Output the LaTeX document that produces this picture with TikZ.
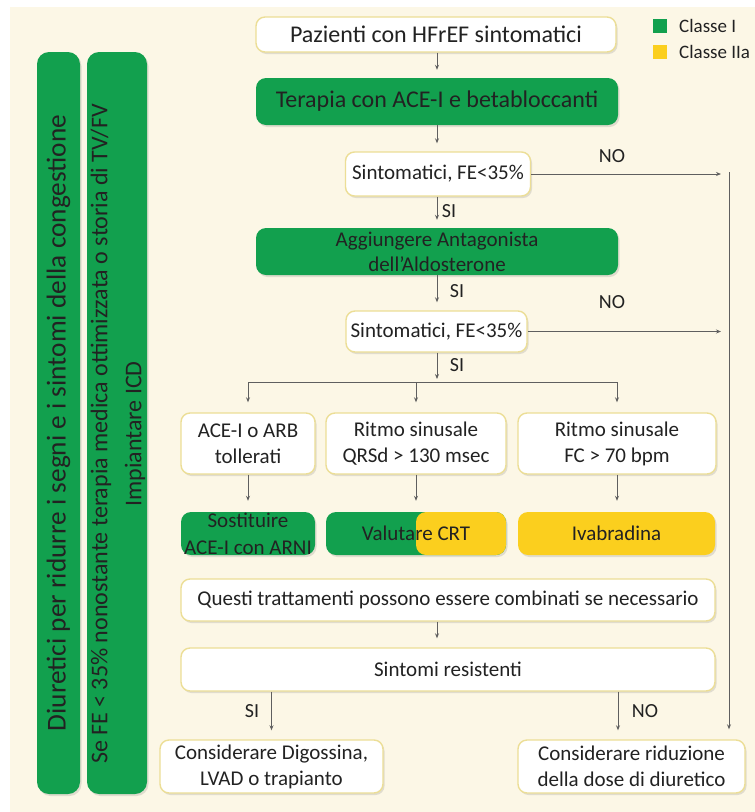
\documentclass[tikz,border=0pt]{standalone}
\usepackage{fontspec}
\setmainfont{Carlito}
\usetikzlibrary{arrows.meta,shadows}
\definecolor{bg}{RGB}{252,247,230}
\definecolor{gr}{RGB}{18,160,78}
\definecolor{ye}{RGB}{251,207,30}
\definecolor{bd}{RGB}{236,222,150}
\definecolor{ln}{RGB}{95,95,95}
\definecolor{tx}{RGB}{34,34,34}
\begin{document}
\begin{tikzpicture}[x=1pt,y=-1pt,
  shad/.style={drop shadow={shadow xshift=1.5pt,shadow yshift=-2pt,opacity=0.18,fill=black!60}},
  wbox/.style={draw=bd,line width=1.4pt,fill=white,rounded corners=9pt,align=center,text=tx,inner sep=0pt,shad},
  gbox/.style={fill=gr,rounded corners=10pt,align=center,text=tx,inner sep=0pt,shad},
  ybox/.style={fill=ye,rounded corners=10pt,align=center,text=tx,inner sep=0pt,shad},
  arr/.style={draw=ln,line width=0.9pt,-{Stealth[length=5pt,width=4pt]},shorten >=8pt},
  lnk/.style={draw=ln,line width=0.9pt},
  lab/.style={font=\fontsize{20}{22}\selectfont,text=tx,inner sep=0pt},
  big/.style={font=\fontsize{24}{28}\selectfont},
  mid/.style={font=\fontsize{21}{26}\selectfont}
]
\useasboundingbox (0,0) rectangle (755,812);
\fill[bg] (10,7) rectangle (755,812);

% left bars
\node[gbox,minimum width=43pt,minimum height=742pt,rounded corners=12pt] (bar1) at (58.5,423) {};
\node[rotate=90,font=\fontsize{27.3}{30}\selectfont,text=tx] (t1) at (bar1.center) {Diuretici per ridurre i segni e i sintomi della congestione};
\node[gbox,minimum width=60pt,minimum height=742pt,rounded corners=12pt] (bar2) at (117,423) {};
\node[rotate=90,font=\fontsize{24}{34}\selectfont,text=tx,align=center] (t2) at (118,434) {Se FE < 35\% nonostante terapia medica ottimizzata o storia di TV/FV\\Impiantare ICD};

% legend
\fill[gr] (653,19) rectangle (667,33);
\node[anchor=west,font=\fontsize{19}{21}\selectfont,text=tx,inner sep=0pt] (l1) at (679,26) {Classe I};
\fill[ye] (653,45) rectangle (667,59);
\node[anchor=west,font=\fontsize{19}{21}\selectfont,text=tx,inner sep=0pt] (l2) at (679,52) {Classe IIa};

% main column
\node[wbox,big,minimum width=360pt,minimum height=35pt] (top) at (436,34.5) {Pazienti con HFrEF sintomatici};
\node[gbox,big,minimum width=362pt,minimum height=47pt] (ther) at (437,101.5) {Terapia con ACE-I e betabloccanti};
\node[wbox,mid,minimum width=185pt,minimum height=44pt] (s1) at (438,174) {Sintomatici, FE<35\%};
\node[gbox,font=\fontsize{21}{25}\selectfont,minimum width=362pt,minimum height=47pt] (ald) at (437,251.5) {Aggiungere Antagonista\\dell’Aldosterone};
\node[wbox,mid,minimum width=181pt,minimum height=41pt] (s2) at (436.5,331.5) {Sintomatici, FE<35\%};

\node[wbox,mid,minimum width=134pt,minimum height=61pt] (b1) at (248,443.5) {ACE-I o ARB\\tollerati};
\node[wbox,mid,minimum width=180pt,minimum height=61pt] (b2) at (416,443.5) {Ritmo sinusale\\QRSd > 130 msec};
\node[wbox,mid,minimum width=198pt,minimum height=61pt] (b3) at (617,443.5) {Ritmo sinusale\\FC > 70 bpm};

\node[gbox,font=\fontsize{21}{27}\selectfont,minimum width=134pt,minimum height=43pt] (g1) at (248,533.5) {Sostituire\\ACE-I con ARNI};
\node[gbox,mid,minimum width=180pt,minimum height=43pt,
  path picture={\fill[ye] (path picture bounding box.north) rectangle (path picture bounding box.south east);}] (g2) at (416,533.5) {Valutare CRT};
\node[ybox,mid,minimum width=197pt,minimum height=43pt] (g3) at (616.5,533.5) {Ivabradina};

\node[wbox,mid,minimum width=534pt,minimum height=42pt] (q) at (448,600) {Questi trattamenti possono essere combinati se necessario};
\node[wbox,mid,minimum width=534pt,minimum height=43pt] (r) at (448,669.5) {Sintomi resistenti};

\node[wbox,font=\fontsize{21}{26}\selectfont,minimum width=223pt,minimum height=53pt] (d1) at (271.5,766.5) {Considerare Digossina,\\LVAD o trapianto};
\node[wbox,font=\fontsize{21}{26}\selectfont,minimum width=227pt,minimum height=53pt] (d2) at (631.5,766.5) {Considerare riduzione\\della dose di diuretico};

% connectors
\draw[arr] (top.south -| ther) -- (ther.north);
\draw[arr] (ther.south) -- (ther.south |- s1.north);
\draw[arr] (s1.south -| ther) -- (ald.north);
\draw[arr] (ald.south) -- (ald.south |- s2.north);

\coordinate (vr) at (729,172);
\draw[arr] (s1.east) -- (s1.east -| vr);
\draw[arr] (s2.east) -- (s2.east -| vr);
\draw[arr,shorten >=10pt] (vr) -- (vr |- d2.north);

\coordinate (br) at (436.5,382);
\draw[arr,shorten >=3pt] (s2.south -| ald) -- (br -| ald);
\draw[lnk] (br -| b1) -- (br -| b3);
\draw[arr,shorten >=10pt] (br -| b1) -- (b1.north);
\draw[arr,shorten >=10pt] (br -| b2) -- (b2.north);
\draw[arr,shorten >=10pt] (br -| b3) -- (b3.north);

\draw[arr,shorten >=11pt] (b1.south) -- (g1.north);
\draw[arr,shorten >=11pt] (b2.south) -- (g2.north);
\draw[arr,shorten >=11pt] (b3.south) -- (b3.south |- g3.north);

\draw[arr,shorten >=9pt] (q.south -| ther) -- (r.north -| ther);
\draw[arr,shorten >=9pt] (r.south -| d1) -- (d1.north);
\coordinate (nx) at (618,700);
\draw[arr,shorten >=9pt] (r.south -| nx) -- (d2.north -| nx);

% labels
\node[lab] (si1) at (449,211) {SI};
\node[lab] (si2) at (457,291) {SI};
\node[lab] (si3) at (457,365) {SI};
\node[lab] (no1) at (612,156) {NO};
\node[lab] (no2) at (612,302) {NO};
\node[lab] (si4) at (252,711) {SI};
\node[lab] (no3) at (645,711) {NO};
\end{tikzpicture}
\end{document}
